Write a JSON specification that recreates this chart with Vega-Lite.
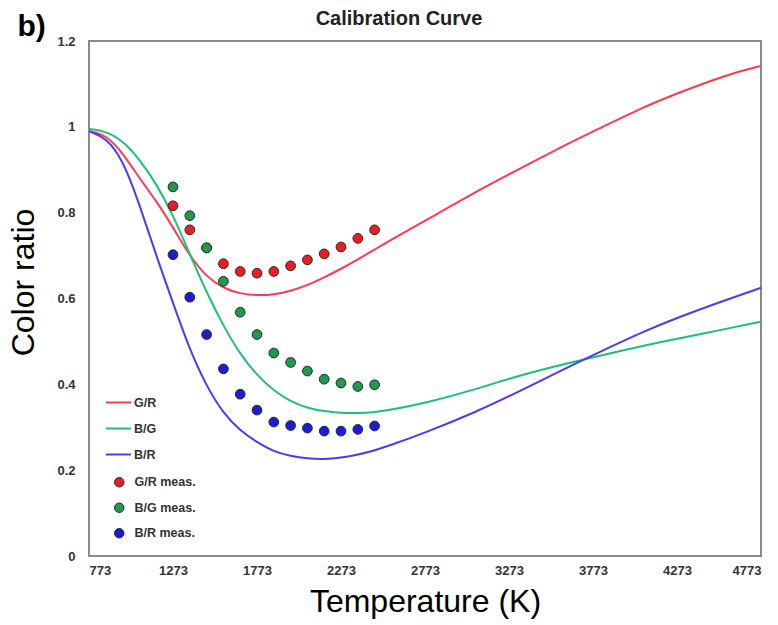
{
  "$schema": "https://vega.github.io/schema/vega-lite/v6.json",
  "width": 672,
  "height": 515,
  "autosize": {"type": "none"},
  "padding": {"left": 89, "top": 41, "right": 17, "bottom": 69},
  "background": "white",
  "title": {
    "text": "Calibration Curve",
    "font": "Liberation Sans",
    "fontSize": 20,
    "fontWeight": "bold",
    "color": "#222222",
    "anchor": "middle",
    "frame": "group",
    "offset": 14,
    "dx": -26,
    "dy": 32
  },
  "config": {
    "view": {"stroke": "#8a8a8a", "strokeWidth": 2},
    "axis": {
      "grid": false,
      "domain": false,
      "ticks": false,
      "labelFont": "Liberation Sans",
      "labelFontWeight": "bold",
      "labelFontSize": 13,
      "labelColor": "#333333",
      "titleFont": "Liberation Sans",
      "titleFontWeight": "normal",
      "titleFontSize": 32,
      "titleColor": "#000000"
    },
    "legend": {
      "padding": 0,
      "labelFont": "Liberation Sans",
      "labelFontWeight": "bold",
      "labelFontSize": 12.5,
      "labelColor": "#333333"
    }
  },
  "resolve": {"axis": {"y": "independent"}},
  "datasets": {
    "curves": [
      {"T": 773, "ratio": 0.990, "series": "G/R"},
      {"T": 873, "ratio": 0.982, "series": "G/R"},
      {"T": 973, "ratio": 0.940, "series": "G/R"},
      {"T": 1073, "ratio": 0.880, "series": "G/R"},
      {"T": 1173, "ratio": 0.828, "series": "G/R"},
      {"T": 1273, "ratio": 0.766, "series": "G/R"},
      {"T": 1373, "ratio": 0.699, "series": "G/R"},
      {"T": 1473, "ratio": 0.650, "series": "G/R"},
      {"T": 1573, "ratio": 0.624, "series": "G/R"},
      {"T": 1673, "ratio": 0.611, "series": "G/R"},
      {"T": 1773, "ratio": 0.607, "series": "G/R"},
      {"T": 1873, "ratio": 0.609, "series": "G/R"},
      {"T": 1973, "ratio": 0.617, "series": "G/R"},
      {"T": 2073, "ratio": 0.631, "series": "G/R"},
      {"T": 2173, "ratio": 0.649, "series": "G/R"},
      {"T": 2273, "ratio": 0.669, "series": "G/R"},
      {"T": 2373, "ratio": 0.691, "series": "G/R"},
      {"T": 2473, "ratio": 0.714, "series": "G/R"},
      {"T": 2573, "ratio": 0.737, "series": "G/R"},
      {"T": 2773, "ratio": 0.781, "series": "G/R"},
      {"T": 3073, "ratio": 0.848, "series": "G/R"},
      {"T": 3273, "ratio": 0.889, "series": "G/R"},
      {"T": 3573, "ratio": 0.951, "series": "G/R"},
      {"T": 3773, "ratio": 0.989, "series": "G/R"},
      {"T": 4073, "ratio": 1.046, "series": "G/R"},
      {"T": 4273, "ratio": 1.078, "series": "G/R"},
      {"T": 4573, "ratio": 1.122, "series": "G/R"},
      {"T": 4773, "ratio": 1.142, "series": "G/R"},

      {"T": 773, "ratio": 0.995, "series": "B/G"},
      {"T": 873, "ratio": 0.990, "series": "B/G"},
      {"T": 973, "ratio": 0.968, "series": "B/G"},
      {"T": 1073, "ratio": 0.925, "series": "B/G"},
      {"T": 1173, "ratio": 0.868, "series": "B/G"},
      {"T": 1273, "ratio": 0.795, "series": "B/G"},
      {"T": 1373, "ratio": 0.703, "series": "B/G"},
      {"T": 1473, "ratio": 0.614, "series": "B/G"},
      {"T": 1573, "ratio": 0.536, "series": "B/G"},
      {"T": 1673, "ratio": 0.470, "series": "B/G"},
      {"T": 1773, "ratio": 0.421, "series": "B/G"},
      {"T": 1873, "ratio": 0.385, "series": "B/G"},
      {"T": 1973, "ratio": 0.360, "series": "B/G"},
      {"T": 2073, "ratio": 0.345, "series": "B/G"},
      {"T": 2173, "ratio": 0.337, "series": "B/G"},
      {"T": 2273, "ratio": 0.333, "series": "B/G"},
      {"T": 2373, "ratio": 0.333, "series": "B/G"},
      {"T": 2473, "ratio": 0.335, "series": "B/G"},
      {"T": 2573, "ratio": 0.341, "series": "B/G"},
      {"T": 2773, "ratio": 0.356, "series": "B/G"},
      {"T": 3073, "ratio": 0.388, "series": "B/G"},
      {"T": 3273, "ratio": 0.414, "series": "B/G"},
      {"T": 3573, "ratio": 0.445, "series": "B/G"},
      {"T": 3773, "ratio": 0.463, "series": "B/G"},
      {"T": 4073, "ratio": 0.490, "series": "B/G"},
      {"T": 4273, "ratio": 0.506, "series": "B/G"},
      {"T": 4573, "ratio": 0.530, "series": "B/G"},
      {"T": 4773, "ratio": 0.546, "series": "B/G"},

      {"T": 773, "ratio": 0.990, "series": "B/R"},
      {"T": 873, "ratio": 0.975, "series": "B/R"},
      {"T": 973, "ratio": 0.925, "series": "B/R"},
      {"T": 1073, "ratio": 0.820, "series": "B/R"},
      {"T": 1173, "ratio": 0.700, "series": "B/R"},
      {"T": 1273, "ratio": 0.590, "series": "B/R"},
      {"T": 1373, "ratio": 0.480, "series": "B/R"},
      {"T": 1473, "ratio": 0.395, "series": "B/R"},
      {"T": 1573, "ratio": 0.332, "series": "B/R"},
      {"T": 1673, "ratio": 0.292, "series": "B/R"},
      {"T": 1773, "ratio": 0.265, "series": "B/R"},
      {"T": 1873, "ratio": 0.243, "series": "B/R"},
      {"T": 1973, "ratio": 0.233, "series": "B/R"},
      {"T": 2073, "ratio": 0.227, "series": "B/R"},
      {"T": 2173, "ratio": 0.225, "series": "B/R"},
      {"T": 2273, "ratio": 0.229, "series": "B/R"},
      {"T": 2373, "ratio": 0.236, "series": "B/R"},
      {"T": 2473, "ratio": 0.246, "series": "B/R"},
      {"T": 2573, "ratio": 0.259, "series": "B/R"},
      {"T": 2773, "ratio": 0.287, "series": "B/R"},
      {"T": 3073, "ratio": 0.335, "series": "B/R"},
      {"T": 3273, "ratio": 0.372, "series": "B/R"},
      {"T": 3573, "ratio": 0.430, "series": "B/R"},
      {"T": 3773, "ratio": 0.468, "series": "B/R"},
      {"T": 4073, "ratio": 0.523, "series": "B/R"},
      {"T": 4273, "ratio": 0.555, "series": "B/R"},
      {"T": 4573, "ratio": 0.598, "series": "B/R"},
      {"T": 4773, "ratio": 0.625, "series": "B/R"}
    ],
    "measured": [
      {"T": 1273, "ratio": 0.816, "series": "G/R meas."},
      {"T": 1373, "ratio": 0.760, "series": "G/R meas."},
      {"T": 1473, "ratio": 0.718, "series": "G/R meas."},
      {"T": 1573, "ratio": 0.681, "series": "G/R meas."},
      {"T": 1673, "ratio": 0.663, "series": "G/R meas."},
      {"T": 1773, "ratio": 0.659, "series": "G/R meas."},
      {"T": 1873, "ratio": 0.663, "series": "G/R meas."},
      {"T": 1973, "ratio": 0.676, "series": "G/R meas."},
      {"T": 2073, "ratio": 0.690, "series": "G/R meas."},
      {"T": 2173, "ratio": 0.704, "series": "G/R meas."},
      {"T": 2273, "ratio": 0.720, "series": "G/R meas."},
      {"T": 2373, "ratio": 0.740, "series": "G/R meas."},
      {"T": 2473, "ratio": 0.760, "series": "G/R meas."},

      {"T": 1273, "ratio": 0.860, "series": "B/G meas."},
      {"T": 1373, "ratio": 0.793, "series": "B/G meas."},
      {"T": 1473, "ratio": 0.718, "series": "B/G meas."},
      {"T": 1573, "ratio": 0.640, "series": "B/G meas."},
      {"T": 1673, "ratio": 0.568, "series": "B/G meas."},
      {"T": 1773, "ratio": 0.516, "series": "B/G meas."},
      {"T": 1873, "ratio": 0.473, "series": "B/G meas."},
      {"T": 1973, "ratio": 0.451, "series": "B/G meas."},
      {"T": 2073, "ratio": 0.431, "series": "B/G meas."},
      {"T": 2173, "ratio": 0.412, "series": "B/G meas."},
      {"T": 2273, "ratio": 0.403, "series": "B/G meas."},
      {"T": 2373, "ratio": 0.395, "series": "B/G meas."},
      {"T": 2473, "ratio": 0.399, "series": "B/G meas."},

      {"T": 1273, "ratio": 0.702, "series": "B/R meas."},
      {"T": 1373, "ratio": 0.603, "series": "B/R meas."},
      {"T": 1473, "ratio": 0.516, "series": "B/R meas."},
      {"T": 1573, "ratio": 0.436, "series": "B/R meas."},
      {"T": 1673, "ratio": 0.377, "series": "B/R meas."},
      {"T": 1773, "ratio": 0.340, "series": "B/R meas."},
      {"T": 1873, "ratio": 0.312, "series": "B/R meas."},
      {"T": 1973, "ratio": 0.304, "series": "B/R meas."},
      {"T": 2073, "ratio": 0.298, "series": "B/R meas."},
      {"T": 2173, "ratio": 0.291, "series": "B/R meas."},
      {"T": 2273, "ratio": 0.291, "series": "B/R meas."},
      {"T": 2373, "ratio": 0.295, "series": "B/R meas."},
      {"T": 2473, "ratio": 0.303, "series": "B/R meas."}
    ]
  },
  "layer": [
    {
      "data": {"name": "curves"},
      "mark": {"type": "line", "strokeWidth": 2, "interpolate": "basis"},
      "encoding": {
        "x": {
          "field": "T",
          "type": "quantitative",
          "scale": {"domain": [773, 4773], "nice": false, "zero": false},
          "axis": {
            "values": [773, 1273, 1773, 2273, 2773, 3273, 3773, 4273, 4773],
            "format": "d",
            "labelPadding": 8,
            "title": "Temperature (K)",
            "titlePadding": 9
          }
        },
        "y": {
          "field": "ratio",
          "type": "quantitative",
          "scale": {"domain": [0, 1.2], "nice": false},
          "axis": {
            "orient": "left",
            "values": [0, 0.2, 0.4, 0.6, 0.8, 1, 1.2],
            "format": "~g",
            "labelPadding": 14,
            "title": "Color ratio",
            "titlePadding": 16,
            "titleY": 241
          }
        },
        "stroke": {
          "field": "series",
          "type": "nominal",
          "scale": {
            "domain": ["G/R", "B/G", "B/R"],
            "range": ["#ff3a50", "#1fbf7a", "#4b3cef"]
          },
          "legend": {
            "title": null,
            "orient": "none",
            "legendX": 16,
            "legendY": 348,
            "symbolType": "stroke",
            "symbolSize": 625,
            "symbolStrokeWidth": 2,
            "labelOffset": 2,
            "rowPadding": 6
          }
        }
      }
    },
    {
      "data": {"name": "measured"},
      "mark": {"type": "point", "filled": true, "size": 95, "opacity": 1, "stroke": "#2a2a2a", "strokeWidth": 1},
      "encoding": {
        "x": {"field": "T", "type": "quantitative"},
        "y": {
          "field": "ratio",
          "type": "quantitative",
          "axis": {
            "orient": "right",
            "labels": false,
            "ticks": false,
            "domain": false,
            "title": "b)",
            "titleAngle": 0,
            "titleAlign": "left",
            "titleBaseline": "alphabetic",
            "titleX": -744,
            "titleY": -6,
            "titleFontSize": 30,
            "titleFontWeight": "bold",
            "titleColor": "#000000"
          }
        },
        "fill": {
          "field": "series",
          "type": "nominal",
          "scale": {
            "domain": ["G/R meas.", "B/G meas.", "B/R meas."],
            "range": ["#ec1c24", "#1d9a4b", "#1c1cd8"]
          },
          "legend": {
            "title": null,
            "orient": "none",
            "legendX": 24,
            "legendY": 435,
            "symbolType": "circle",
            "symbolSize": 90,
            "symbolStrokeColor": "#2a2a2a",
            "symbolStrokeWidth": 1,
            "labelOffset": 9,
            "rowPadding": 11.5
          }
        }
      }
    }
  ]
}
